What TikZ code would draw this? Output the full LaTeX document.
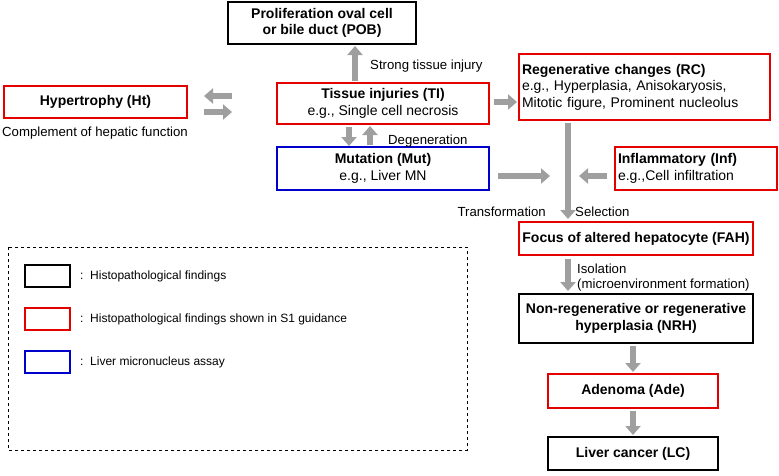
\documentclass[tikz,border=0pt]{standalone}
\usepackage{fontspec}
\setmainfont{Liberation Sans}
\usetikzlibrary{arrows.meta}
\begin{document}
\begin{tikzpicture}[x=1pt,y=-1pt,
  box/.style={draw,line width=1.6pt,rectangle,inner sep=0pt,align=center,font=\fontsize{14}{16.5}\selectfont},
  bk/.style={box,draw=black},
  rd/.style={box,draw=red!90!black},
  bl/.style={box,draw=blue!80!black},
  ar/.style={draw=gray!75,line width=6pt,-{Triangle[width=15pt,length=9pt]},fill=gray!75},
  lab/.style={font=\fontsize{13.2}{15}\selectfont,inner sep=0pt},
  lg/.style={font=\fontsize{12}{14}\selectfont,inner sep=0pt,anchor=west}]
\useasboundingbox (0,0) rectangle (779,475);
\node[bk,minimum width=188,minimum height=42] (pob) at (322,23) {\textbf{Proliferation oval cell}\\\textbf{or bile duct (POB)}};
\node[rd,minimum width=183,minimum height=32] (ht) at (95.5,102) {\textbf{Hypertrophy (Ht)}};
\node[lab] (htl) at (95,133) {Complement of hepatic function};
\node[rd,minimum width=212,minimum height=41] (ti) at (383,103.5) {\textbf{Tissue injuries (TI)}\\e.g., Single cell necrosis};
\node[rd,minimum width=251,minimum height=66,align=left,text width=245] (rc) at (644.5,87) {\textbf{Regenerative changes (RC)}\\e.g., Hyperplasia, Anisokaryosis,\\Mitotic figure, Prominent nucleolus};
\node[bl,minimum width=212,minimum height=43] (mut) at (383,168.5) {\textbf{Mutation (Mut)}\\e.g., Liver MN};
\node[rd,minimum width=162,minimum height=43,align=left,text width=156] (inf) at (696,168.5) {\textbf{Inflammatory (Inf)}\\e.g.,Cell infiltration};
\node[rd,minimum width=234,minimum height=33] (fah) at (636,238.5) {\textbf{Focus of altered hepatocyte (FAH)}};
\node[bk,minimum width=234,minimum height=49] (nrh) at (636,318.5) {\textbf{Non-regenerative or regenerative}\\\textbf{hyperplasia (NRH)}};
\node[rd,minimum width=170,minimum height=34] (ade) at (633,391) {\textbf{Adenoma (Ade)}};
\node[bk,minimum width=170,minimum height=33] (lc) at (633,453.5) {\textbf{Liver cancer (LC)}};
% arrows
\coordinate (c1) at (568,123); \coordinate (c2) at (568,219);
\draw[ar] (355,81) -- (355,46);
\node[lab,anchor=west] (sti) at (370,66) {Strong tissue injury};
\draw[ar] (232,96) -- (204,96);
\draw[ar] (204,112) -- (232,112);
\draw[ar] (494,102) -- (517,102);
\draw[ar] (349,127) -- (349,146);
\draw[ar] (370,145) -- (370,126);
\node[lab,anchor=west] (deg) at (388,141) {Degeneration};
\draw[ar] (498,176) -- (550,176);
\draw[ar] (607,176) -- (579,176);
\draw[ar] (c1) -- (c2);
\node[lab,anchor=east] (tr) at (546,212) {Transformation};
\node[lab,anchor=west] (se) at (575,212) {Selection};
\draw[ar] (568,259) -- (568,291);
\node[lab,anchor=west,align=left] (iso) at (577,278) {Isolation\\(microenvironment formation)};
\draw[ar] (633,346) -- (633,372);
\draw[ar] (633,411) -- (633,435);
% legend
\draw[dashed,line width=0.8pt] (8,247) rectangle (467,450);
\node[bk,line width=1.3pt,minimum width=45,minimum height=22] (l1) at (47.5,276) {};
\node[rd,line width=1.3pt,minimum width=45,minimum height=22] (l2) at (47.5,319) {};
\node[bl,line width=1.3pt,minimum width=45,minimum height=22] (l3) at (47.5,362) {};
\node[lg] (t1) at (80,276) {:\ \ Histopathological findings};
\node[lg] (t2) at (80,319) {:\ \ Histopathological findings shown in S1 guidance};
\node[lg] (t3) at (80,362) {:\ \ Liver micronucleus assay};
\end{tikzpicture}
\end{document}
